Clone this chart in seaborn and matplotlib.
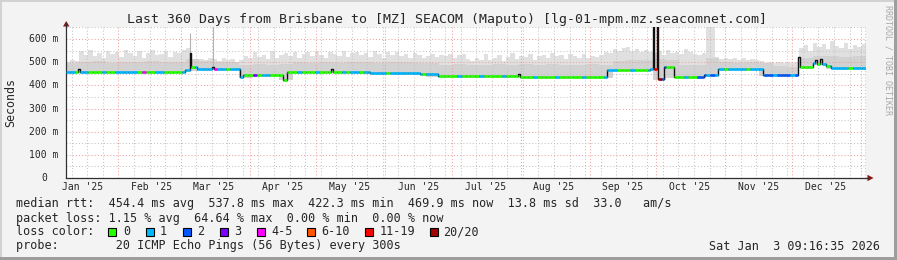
import numpy as np
import pandas as pd
import matplotlib
matplotlib.use("Agg")
import matplotlib.pyplot as plt
import matplotlib.dates as mdates
from matplotlib.ticker import MultipleLocator
from matplotlib.patches import Rectangle, Polygon
from matplotlib.lines import Line2D
import matplotlib.transforms as mtransforms
import seaborn as sns
from datetime import datetime, timedelta

sns.set_style("white")
plt.rcParams["font.family"] = ["DejaVu Sans Mono", "DejaVu Sans"]

# ---------------- data ----------------
title = "Last 360 Days from Brisbane to [MZ] SEACOM (Maputo) [lg-01-mpm.mz.seacomnet.com]"
end_time = datetime(2026, 1, 3, 9, 16, 35)
span_days = 360

# median rtt (ms) as steps: start day (from graph start) and value
median_day = [0, 5.6, 6.4, 53.5, 55.6, 56.3, 59, 65.5, 66.4, 78.4, 79.8, 97.6, 99.5, 119.2, 120, 137,
              159.5, 167.2, 203.6, 204.4, 243.6, 262.6, 264, 264.5, 266.1, 266.6, 269, 273.5, 287,
              293.2, 313.6, 329.6, 330.4, 336, 337.2, 337.8, 339.5, 340.1, 342, 344.2, 360]
median_ms = [459, 470, 458, 466, 541, 480, 470, 480, 469, 437, 444, 425, 459, 470, 458, 455,
             450, 440, 449, 437, 466, 469, 700, 472, 700, 426, 480, 437, 444,
             470, 444, 521, 478, 496, 510, 494, 512, 492, 483, 473, 473]

# packet loss class per 2-day bin (0:"0",1:"1",2:"2",3:"3",4:"4-5",5:"6-10",6:"11-19",7:"20/20")
loss_bin = [1, 1, 0, 1, 1, 0, 0, 0, 1, 0, 0, 1, 1, 1, 1, 1, 0, 4, 0, 0, 1, 1, 0, 0, 0, 0, 1,
            1, 0, 1, 1, 1, 1, 4, 1, 1, 0, 1, 1, 1, 0, 0, 3, 0, 1, 1, 0, 0, 0,
            0, 0, 0, 1, 0, 0, 0, 1, 0, 0, 0, 0, 0, 1, 0, 1, 1, 0, 1, 1,
            1, 1, 1, 0, 1, 1, 1, 1, 1, 1, 1, 0, 1, 1, 1, 0, 0, 0, 0, 1, 0,
            0, 0, 0, 1, 0, 0, 0, 0, 1, 0, 0, 0, 0, 0, 0, 1, 0, 0, 0, 0, 1, 0, 0, 0, 0, 0, 1, 0, 0, 0,
            0, 1, 1, 1, 0, 0, 0, 1, 0, 0, 0, 1, 6, 7, 2, 0, 0, 0, 0, 1, 0, 0, 2, 2, 1, 2,
            1, 1, 0, 1, 1, 1, 1, 0, 1, 1, 1, 2, 2, 1, 2, 2, 2, 1, 2,
            0, 0, 0, 1, 0, 1, 0, 1, 1, 1, 1, 0, 1, 1, 1]

# smoke: highest ping per 2-day bin (ms)
smoke_max = [500, 508, 505,
             548, 530, 552, 525, 540, 518, 550, 535, 545, 522, 553, 538, 528, 547, 520, 541, 551, 530,
             536, 549, 524, 545, 538, 552,
             560,
             510, 505, 515, 508, 520, 512, 506, 518, 509, 514, 503, 510,
             525, 518, 545, 522, 530, 515, 548, 520, 532,
             540, 528, 546, 519, 535, 542, 525, 548, 530, 520, 544, 536, 527, 547, 521, 538, 545, 529,
             540, 523, 548, 534, 519, 543, 531, 546, 525, 537, 520, 541, 530, 518, 528, 535, 522,
             532, 525, 535, 520, 530, 536,
             512, 505, 520, 508, 535, 510, 518, 530, 506, 524, 538, 515, 528, 522, 536, 510, 526, 533,
             518, 540, 525, 530, 512, 537, 528, 520, 534, 516, 527, 522,
             530, 545, 538, 556, 548, 560, 567, 550, 558, 543, 552, 546,
             540, 548, 530, 552, 538, 545, 535, 558, 542, 536,
             530, 540, 660, 660,
             522, 515, 520, 512, 518, 510, 516, 508, 514, 511, 505,
             498, 502, 496, 500, 495, 503, 498, 500,
             560, 575, 550, 585, 565, 578, 555, 590, 570, 560, 582, 555, 575, 565, 580]

# smoke: dense part top per 6-day bin (ms)
smoke_mid = [495, 500, 505, 498, 503, 500, 506, 499, 502, 512, 505, 500, 503, 490, 494, 488, 492,
             500, 497, 502, 498, 503, 500, 496, 501, 499, 495, 497,
             488, 492, 486, 490, 494, 487, 491, 489, 493, 488, 490, 492, 487,
             505, 510, 508, 512, 508, 490, 486, 520, 500, 498, 502, 497, 482, 480,
             520, 528, 525, 522, 526]

# single tall smoke outliers
spike_day = [55.9, 66.0]
spike_ms = [628, 660]

month_labels = ["Jan '25", "Feb '25", "Mar '25", "Apr '25", "May '25", "Jun '25",
                "Jul '25", "Aug '25", "Sep '25", "Oct '25", "Nov '25", "Dec '25"]
y_ticks = [0, 100, 200, 300, 400, 500, 600]
y_labels = ["0", "100 m", "200 m", "300 m", "400 m", "500 m", "600 m"]

loss_names = ["0", "1", "2", "3", "4-5", "6-10", "11-19", "20/20"]
loss_colors = ["#26ff00", "#00b8ff", "#0059ff", "#7e00ff", "#ff00ff", "#ff5500", "#ff0000", "#a00000"]

stats_line1 = "median rtt:  454.4 ms avg  537.8 ms max  422.3 ms min  469.9 ms now  13.8 ms sd  33.0   am/s"
stats_line2 = "packet loss: 1.15 % avg  64.64 % max  0.00 % min  0.00 % now"
probe_line = "probe:        20 ICMP Echo Pings (56 Bytes) every 300s"
stamp = "Sat Jan  3 09:16:35 2026"

# ---------------- figure ----------------
W, H = 897, 260
fig = plt.figure(figsize=(W / 100, H / 100), dpi=100)
fig.patch.set_facecolor("#f3f3f3")

PL, PR, PT, PB = 66, 866, 27, 178
ax = fig.add_axes([PL / W, 1 - PB / H, (PR - PL) / W, (PB - PT) / H])
ax.set_facecolor("white")

start_time = end_time - timedelta(days=span_days)
x0 = mdates.date2num(start_time)
ax.set_xlim(x0, x0 + span_days)
ax.set_ylim(0, 652)

md = np.array(median_day, dtype=float)
mv = np.array(median_ms, dtype=float)


def seg_min(a, b):
    vals = [mv[j] for j in range(len(md) - 1) if md[j] < b and md[j + 1] > a and mv[j] < 600]
    return min(vals)


# smoke layers
e2 = np.arange(0, span_days + 1, 2.0)
bot2 = [seg_min(e2[i], e2[i + 1]) - 4 for i in range(len(e2) - 1)]
top2 = list(smoke_max)
ax.fill_between(x0 + e2, bot2 + [bot2[-1]], top2 + [top2[-1]], step="post",
                color="#e0e0e0", lw=0, zorder=1)
e6 = np.arange(0, span_days + 1, 6.0)
bot6 = [seg_min(e6[i], e6[i + 1]) - 4 for i in range(len(e6) - 1)]
top6 = list(smoke_mid)
ax.fill_between(x0 + e6, bot6 + [bot6[-1]], top6 + [top6[-1]], step="post",
                color="#d2d2d2", lw=0, zorder=1.1)
for d, v in zip(spike_day, spike_ms):
    ax.vlines(x0 + d, seg_min(d - 1, d + 1), v, color="#b4b4b4", lw=0.8, zorder=1.2)

# median line (black steps)
df = pd.DataFrame({"t": x0 + md, "rtt": mv})
sns.lineplot(data=df, x="t", y="rtt", drawstyle="steps-post", color="#111111",
             lw=1.0, ax=ax, zorder=3, sort=False, estimator=None)

# loss coloured band
edges = sorted(set(list(md) + list(e2)))
xs0, xs1, ys, cs = [], [], [], []
for a, b in zip(edges[:-1], edges[1:]):
    j = int(np.searchsorted(md, a, side="right") - 1)
    if j >= len(md) - 1:
        continue
    if md[j + 1] - md[j] < 0.95 or mv[j] > 640:
        continue
    k = min(int(a // 2), len(loss_bin) - 1)
    xs0.append(x0 + a)
    xs1.append(x0 + b)
    ys.append(mv[j])
    cs.append(loss_colors[loss_bin[k]])
ax.hlines(ys, xs0, xs1, colors=cs, lw=1.9, zorder=4)

# grid
ax.set_axisbelow("line")
ax.xaxis.set_major_locator(mdates.MonthLocator())
ax.xaxis.set_minor_locator(mdates.WeekdayLocator(byweekday=mdates.SA))
ax.yaxis.set_major_locator(MultipleLocator(100))
ax.yaxis.set_minor_locator(MultipleLocator(50))
dot = (0, (1, 2))
ax.grid(which="major", color="#f0a0a0", ls=dot, lw=0.75)
ax.grid(which="minor", color="#c4c4c4", ls=dot, lw=0.75)
ax.tick_params(labelbottom=False, labelleft=False)
ax.tick_params(axis="x", which="both", length=0)
ax.tick_params(axis="y", which="major", length=2.5, width=0.7, color="#404040", direction="out")
ax.tick_params(axis="y", which="minor", length=1.5, width=0.7, color="#404040", direction="out")
for s in ["top", "right"]:
    ax.spines[s].set_visible(False)
for s in ["left", "bottom"]:
    ax.spines[s].set_color("#303030")
    ax.spines[s].set_linewidth(0.9)
ax.set_xlabel("")
ax.set_ylabel("")

# y labels
ytr = mtransforms.blended_transform_factory(ax.transAxes, ax.transData)
for v, lab in zip(y_ticks, y_labels):
    xr = (58 - PL) / (PR - PL) if v else (47 - PL) / (PR - PL)
    ax.text(xr, v, lab, transform=ytr, ha="right", va="center", fontsize=7, clip_on=False)

# month labels at mid month
xtr = mtransforms.blended_transform_factory(ax.transData, ax.transAxes)
for m, lab in enumerate(month_labels):
    xm = mdates.date2num(datetime(2025, m + 1, 16))
    ax.text(xm, -9.5 / (PB - PT), lab, transform=xtr, ha="center", va="center", fontsize=7, clip_on=False)

# axis arrows (figure pixel coords)
def fx(p):
    return p / W


def fy(p):
    return 1 - p / H


arrow_c = "#8c1515"
fig.add_artist(Line2D([fx(PL), fx(PL)], [fy(PT), fy(23)], color="#303030", lw=0.9))
fig.add_artist(Polygon([[fx(63), fy(26.5)], [fx(69.5), fy(26.5)], [fx(66.2), fy(21)]],
                       closed=True, color=arrow_c, lw=0))
fig.add_artist(Line2D([fx(PR), fx(869)], [fy(PB), fy(PB)], color="#303030", lw=0.9))
fig.add_artist(Polygon([[fx(867.5), fy(174.8)], [fx(867.5), fy(181.2)], [fx(873.5), fy(178)]],
                       closed=True, color=arrow_c, lw=0))

# texts
fig.text(fx(446.5), fy(19.3), title, ha="center", va="center", fontsize=9.5)
fig.text(fx(11), fy(102.5), "Seconds", rotation=90, ha="center", va="center", fontsize=8.4)
fig.text(fx(887.5), fy(60), "RRDTOOL / TOBI OETIKER", rotation=270, ha="center", va="center",
         fontsize=6, color="#a8a8a8")

fs = 8.45
fig.text(fx(16), fy(204), stats_line1, ha="left", va="center", fontsize=fs)
fig.text(fx(16), fy(218.3), stats_line2, ha="left", va="center", fontsize=fs)
fig.text(fx(16), fy(231.7), "loss color:", ha="left", va="center", fontsize=fs)
box_x = [108, 145.7, 182.7, 220, 257.3, 307.3, 365, 430]
lab_x = [123, 160, 196.7, 234, 271.7, 321.7, 380, 443]
for bx, lx, nm, col in zip(box_x, lab_x, loss_names, loss_colors):
    fig.add_artist(Rectangle((fx(bx), fy(235.7)), 8 / W, 8 / H, facecolor=col,
                             edgecolor="black", lw=0.8))
    fig.text(fx(lx), fy(231.7), nm, ha="left", va="center", fontsize=fs)
fig.text(fx(16), fy(246), probe_line, ha="left", va="center", fontsize=fs)
fig.text(fx(880), fy(246), stamp, ha="right", va="center", fontsize=fs)

# 3D frame
fig.add_artist(Rectangle((0, 1 - 2 / H), 1, 2 / H, color="#d2d2d2", lw=0))
fig.add_artist(Rectangle((0, 0), 2 / W, 1, color="#d2d2d2", lw=0))
fig.add_artist(Rectangle((1 - 3 / W, 0), 3 / W, 1, color="#9e9e9e", lw=0))
fig.add_artist(Rectangle((0, 0), 1, 3 / H, color="#9e9e9e", lw=0))

fig.savefig("out.png", dpi=100, facecolor=fig.get_facecolor())
